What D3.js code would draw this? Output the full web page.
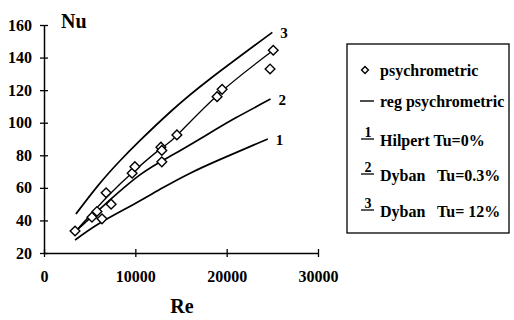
<!DOCTYPE html>
<html><head><meta charset="utf-8">
<script src="https://cdn.jsdelivr.net/npm/d3@7"></script>
<style>
html,body{margin:0;padding:0;background:#fff;}
svg text{font-family:"Liberation Serif","Times New Roman",serif !important;font-weight:bold;fill:#000;}
</style></head>
<body><svg id="c" width="514" height="320"></svg>
<script>
// ---- data ----
const xTicks = [0, 10000, 20000, 30000];
const yTicks = [20, 40, 60, 80, 100, 120, 140, 160];
const psyRe = [3400, 5250, 5800, 6350, 6800, 7350, 9650, 9950, 12800, 12900, 12900, 14550, 18950, 19500, 24750, 25100];
const psyNu = [33.5, 42, 45.5, 41, 57, 50, 69, 73, 85, 83, 76, 92.5, 116, 120.5, 133, 144.5];
const regRe = [3400, 7000, 10000, 13000, 14600, 19200, 25000];
const regNu = [33, 55, 71, 85, 92.5, 118, 144];
const c1Re = [3400, 6000, 9700, 13000, 16000, 19300, 24500];
const c1Nu = [28, 38, 49.5, 60, 69, 77.5, 90];
const c2Re = [3400, 6500, 10500, 14000, 17800, 21000, 24800];
const c2Nu = [33, 49, 68, 80, 92.5, 103, 114.5];
const c3Re = [3500, 6000, 8300, 10500, 14000, 18200, 25000];
const c3Nu = [44, 62, 76.5, 89, 107.5, 127, 155.5];
const curveLabels = ["1", "2", "3"];
const legendLabels = ["psychrometric", "reg psychrometric", "Hilpert Tu=0%", "Dyban   Tu=0.3%", "Dyban   Tu= 12%"];

const FONT = '"Liberation Serif","Times New Roman",serif';
const svg = d3.select("#c");
const x = d3.scaleLinear().domain([0, 30000]).range([44, 318]);
const y = d3.scaleLinear().domain([20, 160]).range([253, 25]);

// axes
const gx = svg.append("g").attr("transform", `translate(0,${y(20)})`)
  .call(d3.axisBottom(x).tickValues(xTicks).tickSize(0).tickPadding(18).tickFormat(d3.format("d")));
gx.attr("font-family", FONT);
gx.select(".domain").attr("stroke", "#000").attr("stroke-width", 1.5);
gx.selectAll(".tick text").attr("font-size", 16).style("font-family", FONT).style("font-weight", "bold");
gx.selectAll(".tick").append("line").attr("y1", -4).attr("y2", 4).attr("stroke", "#000").attr("stroke-width", 1.3);

const gy = svg.append("g").attr("transform", `translate(${x(0)},0)`)
  .call(d3.axisLeft(y).tickValues(yTicks).tickSize(0).tickPadding(12));
gy.attr("font-family", FONT);
gy.select(".domain").attr("stroke", "#000").attr("stroke-width", 1.5);
gy.selectAll(".tick text").attr("font-size", 16).style("font-family", FONT).style("font-weight", "bold");
gy.selectAll(".tick").append("line").attr("x1", -4).attr("x2", 4).attr("stroke", "#000").attr("stroke-width", 1.3);

svg.append("text").attr("x", 61).attr("y", 28).attr("font-size", 20).text("Nu");
svg.append("text").attr("x", 182).attr("y", 313).attr("text-anchor", "middle").attr("font-size", 20).text("Re");

// curves
const line = d3.line().x(d => x(d[0])).y(d => y(d[1])).curve(d3.curveNatural);
const curves = [
  {re: c1Re, nu: c1Nu, w: 1.7},
  {re: c2Re, nu: c2Nu, w: 1.7},
  {re: c3Re, nu: c3Nu, w: 1.7},
  {re: regRe, nu: regNu, w: 1.3}
];
curves.forEach(c => {
  svg.append("path").datum(c.re.map((r, i) => [r, c.nu[i]]))
    .attr("d", line).attr("fill", "none").attr("stroke", "#000").attr("stroke-width", c.w);
});
// curve labels at ends of curves 1..3
[[c1Re, c1Nu], [c2Re, c2Nu], [c3Re, c3Nu]].forEach((c, i) => {
  const n = c[0].length - 1;
  svg.append("text").attr("x", x(c[0][n]) + 8).attr("y", y(c[1][n]) + 6)
    .attr("font-size", 15).text(curveLabels[i]);
});

// diamonds
const diamond = d3.symbol().type(d3.symbolDiamond2).size(60);
svg.append("g").selectAll("path").data(psyRe.map((r, i) => [r, psyNu[i]])).join("path")
  .attr("d", diamond)
  .attr("transform", d => `translate(${x(d[0])},${y(d[1])})`)
  .attr("fill", "#fff").attr("stroke", "#000").attr("stroke-width", 1.4);

// legend
const lg = svg.append("g");
lg.append("rect").attr("x", 347).attr("y", 44).attr("width", 162).attr("height", 189)
  .attr("fill", "none").attr("stroke", "#000").attr("stroke-width", 1.3);
const rowsBase = [76, 107, 146, 181, 217];
lg.append("path").attr("d", d3.symbol().type(d3.symbolDiamond2).size(30))
  .attr("transform", `translate(365,70)`).attr("fill", "#fff").attr("stroke", "#000").attr("stroke-width", 1.4);
lg.append("line").attr("x1", 360).attr("x2", 374).attr("y1", 101).attr("y2", 101).attr("stroke", "#000").attr("stroke-width", 1.4);
[[137, 139], [172, 174], [208, 210]].forEach((p, i) => {
  lg.append("text").attr("x", 368).attr("y", p[0]).attr("text-anchor", "middle").attr("font-size", 14).text(curveLabels[i]);
  lg.append("line").attr("x1", 361).attr("x2", 374).attr("y1", p[1]).attr("y2", p[1]).attr("stroke", "#000").attr("stroke-width", 1.3);
});
legendLabels.forEach((t, i) => {
  lg.append("text").attr("x", 380).attr("y", rowsBase[i]).attr("font-size", 16)
    .style("white-space", "pre").text(t);
});
</script></body></html>
